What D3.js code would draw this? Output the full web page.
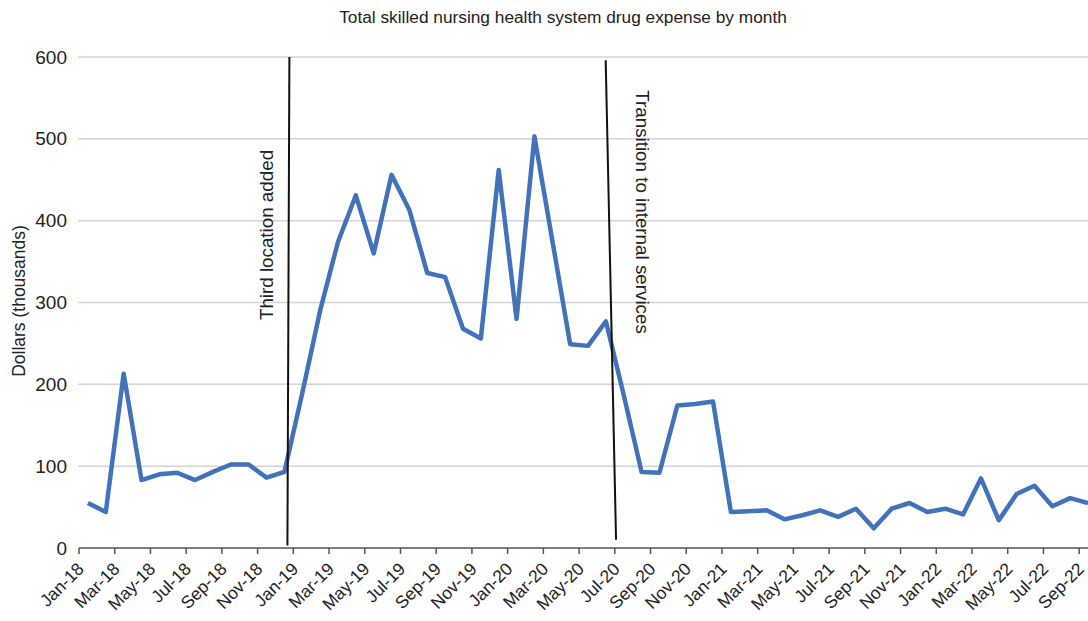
<!DOCTYPE html>
<html>
<head>
<meta charset="utf-8">
<script src="https://cdnjs.cloudflare.com/ajax/libs/d3/7.8.5/d3.min.js"></script>
<style>
  body { margin: 0; background: #fff; }
  text { font-family: "Liberation Sans", Arial, Helvetica, sans-serif; fill: #222; }
</style>
</head>
<body>
<script>

// months shown on the x axis (Jan-18 .. Sep-22, plus Oct-22 which falls off the edge)
var months = ["Jan-18","Feb-18","Mar-18","Apr-18","May-18","Jun-18","Jul-18","Aug-18","Sep-18","Oct-18","Nov-18","Dec-18",
  "Jan-19","Feb-19","Mar-19","Apr-19","May-19","Jun-19","Jul-19","Aug-19","Sep-19","Oct-19","Nov-19","Dec-19",
  "Jan-20","Feb-20","Mar-20","Apr-20","May-20","Jun-20","Jul-20","Aug-20","Sep-20","Oct-20","Nov-20","Dec-20",
  "Jan-21","Feb-21","Mar-21","Apr-21","May-21","Jun-21","Jul-21","Aug-21","Sep-21","Oct-21","Nov-21","Dec-21",
  "Jan-22","Feb-22","Mar-22","Apr-22","May-22","Jun-22","Jul-22","Aug-22","Sep-22","Oct-22"];

// drug expense, thousands of dollars
var expense = [55,44,213,83,90,92,83,93,102,102,86,93,
  189,290,374,431,360,456,413,336,331,268,256,462,
  280,503,376,249,247,277,187,93,92,174,176,179,
  44,45,46,35,40,46,38,48,24,48,55,44,
  48,41,85,34,66,76,51,61,55];

var yTicks = [0,100,200,300,400,500,600];

// annotation lines: month position (in months from Jan-18) at top and bottom, values at top and bottom
var notes = [
  {label:"Third location added", topMonth:11.78, bottomMonth:11.67, topVal:600, bottomVal:3},
  {label:"Transition to internal services", topMonth:29.49, bottomMonth:30.07, topVal:596, bottomVal:10}
];

var width = 1088, height = 621;
var margin = {top: 57, left: 79, bottom: 73};
var step = 17.86;

var svg = d3.select("body").append("svg")
  .attr("width", width)
  .attr("height", height);

var x = d3.scaleBand()
  .domain(months)
  .range([margin.left, margin.left + step * months.length])
  .padding(0);

var xm = d3.scaleLinear()
  .domain([0, months.length])
  .range([margin.left, margin.left + step * months.length]);

var y = d3.scaleLinear()
  .domain([0, 600])
  .range([height - margin.bottom, margin.top]);

// gridlines
svg.append("g")
  .attr("class", "grid")
  .selectAll("line")
  .data(yTicks.filter(function(d){ return d > 0; }))
  .enter().append("line")
  .attr("x1", margin.left - 1)
  .attr("x2", width)
  .attr("y1", function(d){ return y(d); })
  .attr("y2", function(d){ return y(d); })
  .style("stroke", "#d4d4d4")
  .style("stroke-width", 1.5);

// y labels
svg.append("g")
  .selectAll("text")
  .data(yTicks)
  .enter().append("text")
  .attr("x", 67)
  .attr("y", function(d){ return y(d); })
  .attr("dy", "0.35em")
  .attr("text-anchor", "end")
  .style("font-size", "19px")
  .text(function(d){ return d; });

// x axis, ticks on category boundaries every 2 months
var xAxis = d3.axisBottom(x)
  .tickValues(months.filter(function(d, i){ return i % 2 === 0; }))
  .tickSize(6)
  .tickSizeOuter(0)
  .tickFormat("");

var gx = svg.append("g")
  .attr("transform", "translate(" + (-step / 2) + "," + y(0) + ")")
  .call(xAxis);
gx.select(".domain").attr("d", "M" + (margin.left + step / 2) + ",0H" + (width + step)).style("stroke", "#555").style("stroke-width", 1.5);
gx.selectAll(".tick line").style("stroke", "#555").style("stroke-width", 1.5);

svg.append("g")
  .selectAll("text")
  .data(months.filter(function(d, i){ return i % 2 === 0 && i < 57; }))
  .enter().append("text")
  .attr("transform", function(d){ return "translate(" + (x(d) + 6) + "," + (y(0) + 22) + ") rotate(-45)"; })
  .attr("text-anchor", "end")
  .style("font-size", "17.5px")
  .text(function(d){ return d; });

// expense line
var line = d3.line()
  .x(function(d, i){ return x(months[i]) + x.bandwidth() / 2; })
  .y(function(d){ return y(d); });

svg.append("path")
  .datum(expense)
  .attr("d", line)
  .style("fill", "none")
  .style("stroke", "#4272b9")
  .style("stroke-width", 4.5)
  .style("stroke-linejoin", "round");

// annotations
notes.forEach(function(n){
  svg.append("line")
    .attr("x1", xm(n.topMonth)).attr("y1", y(n.topVal))
    .attr("x2", xm(n.bottomMonth)).attr("y2", y(n.bottomVal))
    .style("stroke", "#111")
    .style("stroke-width", 2);
});

svg.append("text")
  .attr("transform", "translate(" + (xm(notes[0].topMonth) - 16) + ",235) rotate(-90)")
  .attr("text-anchor", "middle")
  .style("font-size", "18.8px")
  .text(notes[0].label);

svg.append("text")
  .attr("transform", "translate(" + (xm(notes[1].topMonth) + 30) + ",212) rotate(90)")
  .attr("text-anchor", "middle")
  .style("font-size", "18.8px")
  .text(notes[1].label);

// titles
svg.append("text")
  .attr("x", 563)
  .attr("y", 23)
  .attr("text-anchor", "middle")
  .style("font-size", "17.3px")
  .text("Total skilled nursing health system drug expense by month");

svg.append("text")
  .attr("transform", "translate(25,301) rotate(-90)")
  .attr("text-anchor", "middle")
  .style("font-size", "17.5px")
  .text("Dollars (thousands)");

</script>
</body>
</html>
